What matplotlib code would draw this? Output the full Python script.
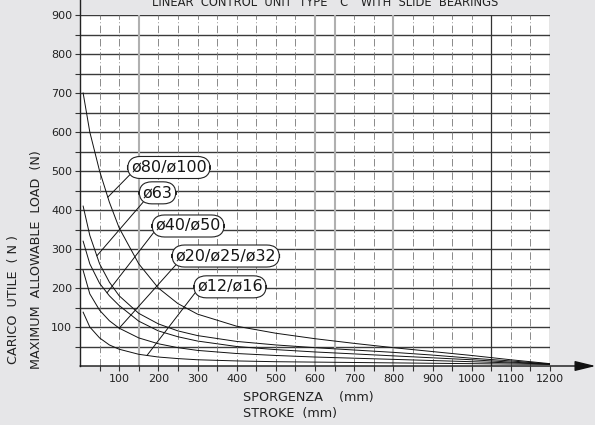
import numpy as np
import matplotlib
matplotlib.use('Agg')
import matplotlib.pyplot as plt

# stroke (mm) and maximum allowable load (N)
stroke = [8, 25, 50, 75, 100, 150, 200, 250, 300, 400, 500, 600, 700, 800, 900, 1000, 1100, 1200]
load_80_100 = [700, 600, 500, 420, 354, 262, 200, 160, 133, 102, 84, 70, 58, 47, 37, 27, 16, 6]
load_63 = [410, 335, 262, 215, 180, 135, 108, 90, 78, 63, 54, 47, 41, 35, 28, 20, 13, 5]
load_40_50 = [320, 262, 212, 180, 155, 115, 90, 75, 64, 50, 42, 36, 31, 26, 21, 16, 10, 5]
load_20_32 = [245, 185, 143, 116, 97, 72, 57, 47, 40, 32, 27, 23, 20, 17, 14, 11, 8, 5]
load_12_16 = [138, 100, 72, 54, 43, 30, 23, 19, 16, 13, 11, 10, 9, 8, 7, 6, 5, 4]

labels = ['ø80/ø100', 'ø63', 'ø40/ø50', 'ø20/ø25/ø32', 'ø12/ø16']
x_ticks = [100, 200, 300, 400, 500, 600, 700, 800, 900, 1000, 1100, 1200]
y_ticks = [100, 200, 300, 400, 500, 600, 700, 800, 900]

BG = '#e6e6e8'


def main():
    fig = plt.figure(figsize=(5.95, 4.25), dpi=100, facecolor=BG)
    ax = fig.add_axes([80 / 595, 59 / 425, 470 / 595, 351 / 425])
    ax.set_facecolor('white')
    ax.set_xlim(0, 1200)
    ax.set_ylim(0, 900)
    for s in ax.spines.values():
        s.set_visible(False)

    # grid
    for y in range(50, 901, 50):
        ax.axhline(y, color='#3a3a3a', lw=1.0, zorder=1)
    for x in range(50, 1201, 50):
        if x in (150, 600, 650, 800):
            ax.axvline(x, color='#b0b0b0', lw=1.5, zorder=1)
        elif x in (1050, 1200):
            ax.axvline(x, color='#333333', lw=0.9, zorder=1)
        else:
            ax.axvline(x, color='#777777', lw=0.6, ls=(0, (9, 3, 1, 3)), zorder=1)

    # left axis line runs up to the top edge
    ax.plot([0, 0], [0, 1.05], transform=ax.transAxes, color='#222222', lw=1.0, clip_on=False)
    # x axis with arrow
    ax.annotate('', xy=(1.097, 0), xytext=(0, 0), xycoords='axes fraction',
                arrowprops=dict(arrowstyle='-|>,head_length=0.9,head_width=0.22', color='#111111',
                                lw=1.0, shrinkA=0, shrinkB=0, mutation_scale=14))

    curves = [load_80_100, load_63, load_40_50, load_20_32, load_12_16]
    for c in curves:
        ax.plot(stroke, c, color='#111111', lw=0.7, zorder=3)

    # labels with leader lines
    lead_x = [71, 43, 69, 100, 171]
    text_pos = [(227, 509), (198, 444), (276, 359), (372, 282), (383, 203)]
    relpos = [(0.02, 0.2), (0.07, 0.0), (0.01, 0.27), (0.03, 0.1), (0.03, 0.45)]
    for lab, c, lx, tp, rp in zip(labels, curves, lead_x, text_pos, relpos):
        ly = np.interp(lx, stroke, c)
        ax.annotate(lab, xy=(lx, ly), xytext=tp, fontsize=11.5, ha='center', va='center',
                    color='#151515', zorder=5,
                    bbox=dict(boxstyle='round,pad=0.22,rounding_size=0.8', fc='white', ec='#222222', lw=0.8),
                    arrowprops=dict(arrowstyle='-', color='#111111', lw=0.7, relpos=rp,
                                    shrinkA=0, shrinkB=0))

    ax.set_xticks(x_ticks)
    ax.set_xticks(range(50, 1201, 50), minor=True)
    ax.set_yticks(y_ticks)
    ax.set_yticks(range(50, 901, 50), minor=True)
    ax.tick_params(axis='both', which='both', direction='out', length=3.6, width=0.8,
                   color='#333333', labelsize=8, labelcolor='#222222', pad=2)

    fig.text(325 / 595, 1 - 2 / 425, 'LINEAR  CONTROL  UNIT  TYPE  "C"  WITH  SLIDE  BEARINGS',
             ha='center', va='center', fontsize=8.3, color='#222222')
    fig.text(14 / 595, 1 - 300 / 425, 'CARICO  UTILE  ( N )', rotation=90,
             ha='center', va='center', fontsize=9.2, color='#222222')
    fig.text(37 / 595, 1 - 260 / 425, 'MAXIMUM  ALLOWABLE  LOAD  (N)', rotation=90,
             ha='center', va='center', fontsize=9.2, color='#222222')
    fig.text(243 / 595, 1 - 397 / 425, 'SPORGENZA    (mm)', ha='left', va='center',
             fontsize=9.2, color='#222222')
    fig.text(243 / 595, 1 - 413 / 425, 'STROKE  (mm)', ha='left', va='center',
             fontsize=9.2, color='#222222')

    fig.savefig('out.png', dpi=100, facecolor=BG)


if __name__ == '__main__':
    main()
